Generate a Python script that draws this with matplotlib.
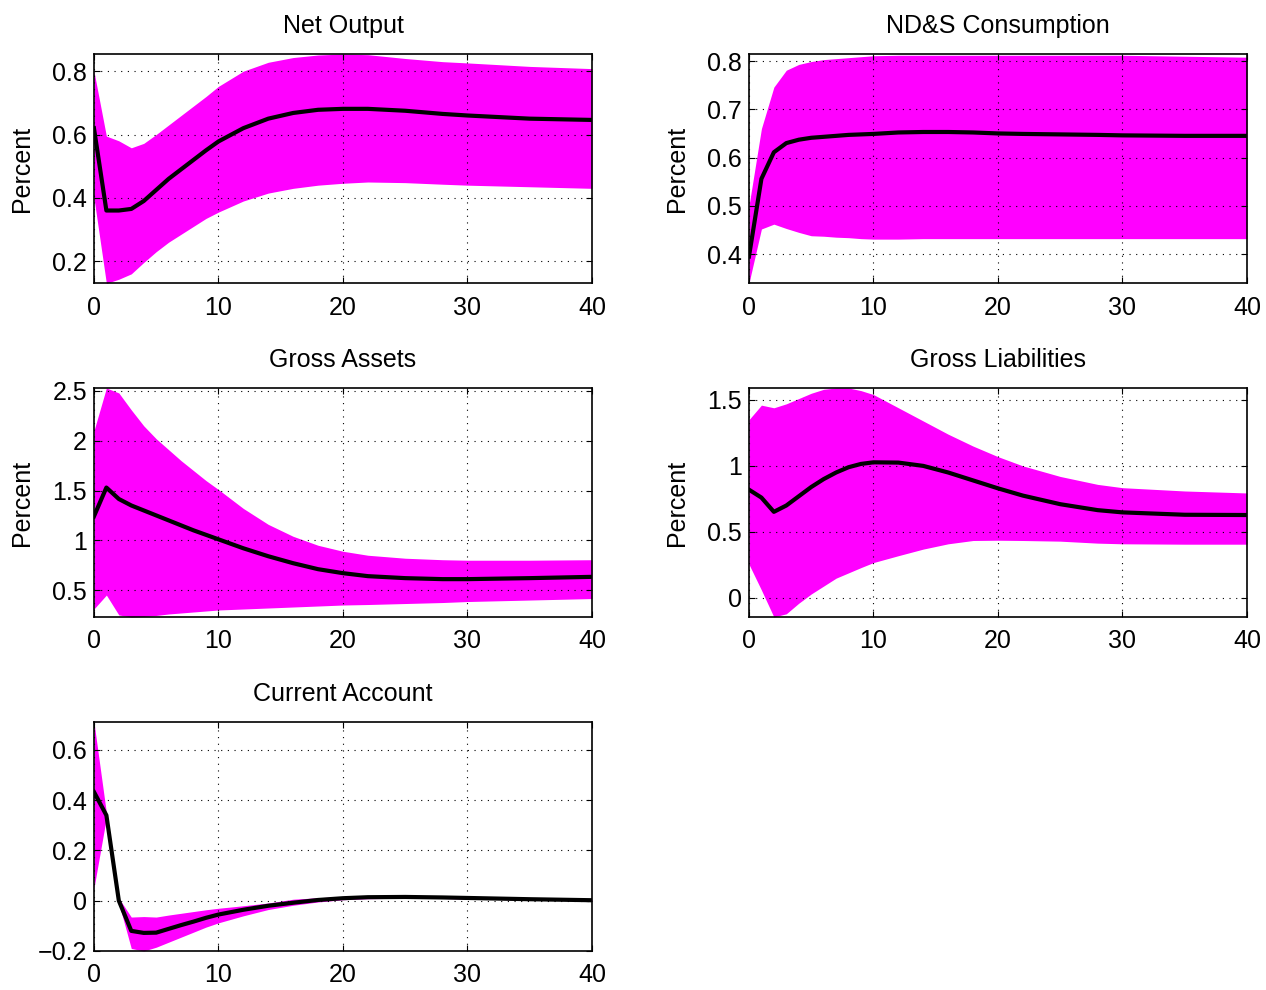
import matplotlib
matplotlib.use('Agg')
import matplotlib.pyplot as plt
from matplotlib.ticker import FuncFormatter

plt.rcParams['font.family'] = ['Liberation Sans', 'DejaVu Sans']

horizon = [0, 1, 2, 3, 4, 5, 6, 7, 8, 9, 10, 12, 14, 16, 18, 20, 22, 25, 28, 30, 35, 40]

# Net Output
out_med = [0.62, 0.36, 0.36, 0.365, 0.39, 0.425, 0.46, 0.49, 0.52, 0.55, 0.578,
           0.62, 0.65, 0.668, 0.678, 0.681, 0.681, 0.675, 0.665, 0.66, 0.65, 0.646]
out_up = [0.80, 0.595, 0.58, 0.558, 0.572, 0.60, 0.63, 0.66, 0.69, 0.72, 0.752,
          0.80, 0.828, 0.843, 0.851, 0.854, 0.852, 0.84, 0.83, 0.826, 0.815, 0.808]
out_lo = [0.40, 0.13, 0.143, 0.16, 0.196, 0.23, 0.26, 0.285, 0.31, 0.335, 0.355,
          0.39, 0.415, 0.43, 0.44, 0.446, 0.45, 0.448, 0.443, 0.44, 0.435, 0.43]

# ND&S Consumption
cons_med = [0.395, 0.556, 0.611, 0.630, 0.637, 0.641, 0.643, 0.645, 0.647, 0.648, 0.649,
            0.652, 0.653, 0.653, 0.652, 0.650, 0.649, 0.648, 0.647, 0.646, 0.645, 0.645]
cons_up = [0.50, 0.66, 0.746, 0.781, 0.793, 0.799, 0.803, 0.805, 0.807, 0.809, 0.811,
           0.812, 0.812, 0.812, 0.812, 0.812, 0.812, 0.812, 0.812, 0.812, 0.81, 0.808]
cons_lo = [0.34, 0.452, 0.462, 0.453, 0.445, 0.438, 0.437, 0.435, 0.434, 0.432, 0.431,
           0.431, 0.432, 0.432, 0.432, 0.432, 0.432, 0.432, 0.432, 0.432, 0.432, 0.432]

# Gross Assets
ga_med = [1.24, 1.53, 1.415, 1.35, 1.30, 1.25, 1.20, 1.15, 1.10, 1.055, 1.01,
          0.92, 0.84, 0.77, 0.71, 0.67, 0.64, 0.62, 0.61, 0.61, 0.62, 0.633]
ga_up = [2.1, 2.53, 2.48, 2.31, 2.15, 2.02, 1.91, 1.80, 1.70, 1.60, 1.51,
         1.32, 1.16, 1.04, 0.95, 0.89, 0.85, 0.82, 0.805, 0.80, 0.80, 0.805]
ga_lo = [0.31, 0.45, 0.25, 0.23, 0.235, 0.245, 0.26, 0.27, 0.28, 0.29, 0.30,
         0.31, 0.32, 0.33, 0.34, 0.35, 0.355, 0.365, 0.375, 0.385, 0.40, 0.415]

# Gross Liabilities
gl_med = [0.82, 0.76, 0.652, 0.70, 0.77, 0.84, 0.90, 0.95, 0.99, 1.015, 1.027,
          1.025, 1.0, 0.95, 0.89, 0.83, 0.775, 0.71, 0.665, 0.648, 0.63, 0.628]
gl_up = [1.35, 1.46, 1.44, 1.47, 1.51, 1.55, 1.58, 1.59, 1.59, 1.57, 1.54,
         1.44, 1.34, 1.24, 1.15, 1.07, 1.0, 0.92, 0.86, 0.835, 0.81, 0.795]
gl_lo = [0.255, 0.06, -0.144, -0.12, -0.04, 0.03, 0.09, 0.15, 0.19, 0.23, 0.268,
         0.32, 0.37, 0.41, 0.435, 0.437, 0.435, 0.43, 0.415, 0.41, 0.407, 0.407]

# Current Account
ca_med = [0.433, 0.34, 0.0, -0.12, -0.128, -0.127, -0.112, -0.097, -0.083, -0.068, -0.055,
          -0.036, -0.02, -0.008, 0.003, 0.01, 0.014, 0.015, 0.013, 0.011, 0.006, 0.002]
ca_up = [0.711, 0.35, 0.01, -0.065, -0.063, -0.065, -0.057, -0.05, -0.043, -0.036, -0.03,
         -0.02, -0.009, 0.006, 0.012, 0.016, 0.018, 0.018, 0.015, 0.013, 0.008, 0.004]
ca_lo = [0.05, 0.33, -0.01, -0.19, -0.2, -0.185, -0.165, -0.145, -0.125, -0.105, -0.088,
         -0.06, -0.035, -0.018, -0.005, 0.004, 0.008, 0.01, 0.009, 0.007, 0.003, -0.001]

panels = [
    ('Net Output', out_lo, out_med, out_up, (0.131, 0.854), [0.2, 0.4, 0.6, 0.8], True),
    ('ND&S Consumption', cons_lo, cons_med, cons_up, (0.34, 0.8145), [0.4, 0.5, 0.6, 0.7, 0.8], True),
    ('Gross Assets', ga_lo, ga_med, ga_up, (0.23, 2.53), [0.5, 1, 1.5, 2, 2.5], True),
    ('Gross Liabilities', gl_lo, gl_med, gl_up, (-0.144, 1.59), [0, 0.5, 1, 1.5], True),
    ('Current Account', ca_lo, ca_med, ca_up, (-0.2, 0.711), [-0.2, 0, 0.2, 0.4, 0.6], False),
]

lefts = [0.0742, 0.5916]
bottoms = [0.7141, 0.3768, 0.0394]
w, h = 0.3934, 0.2313


def fmt(v, pos):
    return ('%g' % v).replace('-', '\u2212')


fig = plt.figure(figsize=(12.66, 9.9), dpi=100)

for i, (title, lo, med, up, ylim, yt, ylab) in enumerate(panels):
    ax = fig.add_axes([lefts[i % 2], bottoms[i // 2], w, h])
    ax.fill_between(horizon, lo, up, color='#ff00ff', lw=0)
    ax.plot(horizon, med, color='black', lw=3)
    ax.set_xlim(0, 40)
    ax.set_ylim(*ylim)
    ax.set_xticks([0, 10, 20, 30, 40])
    ax.set_yticks(yt)
    ax.yaxis.set_major_formatter(FuncFormatter(fmt))
    ax.grid(True, color='black', linestyle=(0, (1, 5)), lw=0.8)
    ax.tick_params(direction='in', top=True, right=True, labelsize=18,
                   length=4, width=0.8)
    ax.tick_params(axis='x', pad=9)
    ax.tick_params(axis='y', pad=5)
    for s in ax.spines.values():
        s.set_linewidth(1.2)
    ax.set_title(title, fontsize=18, pad=15)
    if ylab:
        ax.set_ylabel('Percent', fontsize=18, labelpad=13)

fig.savefig('out.png', dpi=100)
